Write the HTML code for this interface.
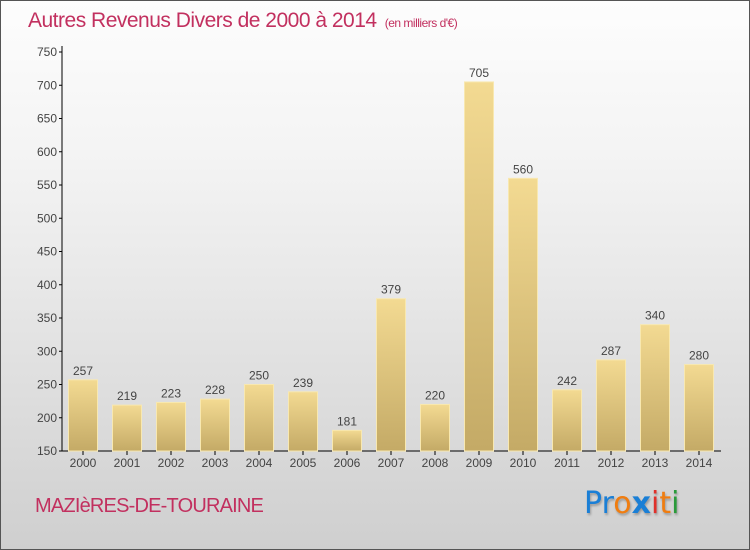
<!DOCTYPE html>
<html><head><meta charset="utf-8"><style>
body{margin:0}
#c{position:relative;width:750px;height:550px;box-sizing:border-box;border:1px solid #555;background:linear-gradient(#fdfdfd,#f3f3f3 30%,#dcdcdc 75%,#cfcfcf);font-family:"Liberation Sans",sans-serif;overflow:hidden}
</style></head><body>
<div id="c">
<div style="position:absolute;left:27px;top:8px;font-size:21px;color:#c2305f;letter-spacing:-0.5px">Autres Revenus Divers de 2000 à 2014 <span style="font-size:12px">&nbsp;(en milliers d'€)</span></div>
<svg id="s" width="750" height="550" style="position:absolute;left:0;top:0">
<defs><linearGradient id="g" x1="0" y1="0" x2="0" y2="1"><stop offset="0" stop-color="#f3da92"/><stop offset="1" stop-color="#c4aa66"/></linearGradient></defs>
</svg>
<div style="position:absolute;left:34px;top:494px;font-size:20px;color:#c2305f;letter-spacing:-0.8px">MAZIèRES-DE-TOURAINE</div>
<div style="position:absolute;left:583px;top:485px;font-size:30px;font-family:'DejaVu Sans',sans-serif;text-shadow:1px 2px 2px #999"><span style="color:#1a7fd6">Pr</span><span style="color:#f07d10">o</span><span style="color:#1a7fd6;font-weight:bold">x</span><span style="color:#e0302a">i</span><span style="color:#f07d10">t</span><span style="color:#2a9a3a">i</span></div>
</div>
<script>
const years=["2000","2001","2002","2003","2004","2005","2006","2007","2008","2009","2010","2011","2012","2013","2014"];
const values=[257,219,223,228,250,239,181,379,220,705,560,242,287,340,280];
const ticks=[150,200,250,300,350,400,450,500,550,600,650,700,750];
const s=document.getElementById('s'),NS='http://www.w3.org/2000/svg';
const y=v=>450-(v-150)*399/600, x=i=>82+i*44;
function mk(t,a){const e=document.createElementNS(NS,t);for(const k in a)e.setAttribute(k,a[k]);s.appendChild(e);return e;}
let ax=mk('line',{x1:61,y1:45,x2:61,y2:450,stroke:'#000'});


let bx=mk('line',{x1:61,y1:450,x2:720,y2:450,stroke:'#000'});


ticks.forEach(t=>{
 mk('line',{x1:58,x2:61,y1:y(t),y2:y(t),stroke:'#000'});
 const tx=mk('text',{x:56,y:y(t)+4,'text-anchor':'end','font-size':12,fill:'#444'});tx.textContent=t;
 
 
});
years.forEach((yr,i)=>{
 const r=mk('rect',{x:x(i)-14.5,y:y(values[i]),width:29,height:450-y(values[i]),fill:'url(#g)',stroke:'#f8e8b0','stroke-width':1});
 
 
 const v=mk('text',{x:x(i),y:y(values[i])-5,'text-anchor':'middle','font-size':12,fill:'#444'});v.textContent=values[i];
 
 
 mk('line',{x1:x(i),x2:x(i),y1:450,y2:454,stroke:'#000'});
 const l=mk('text',{x:x(i),y:466,'text-anchor':'middle','font-size':12,fill:'#444'});l.textContent=yr;
 
 
});
</script>
</body></html>
